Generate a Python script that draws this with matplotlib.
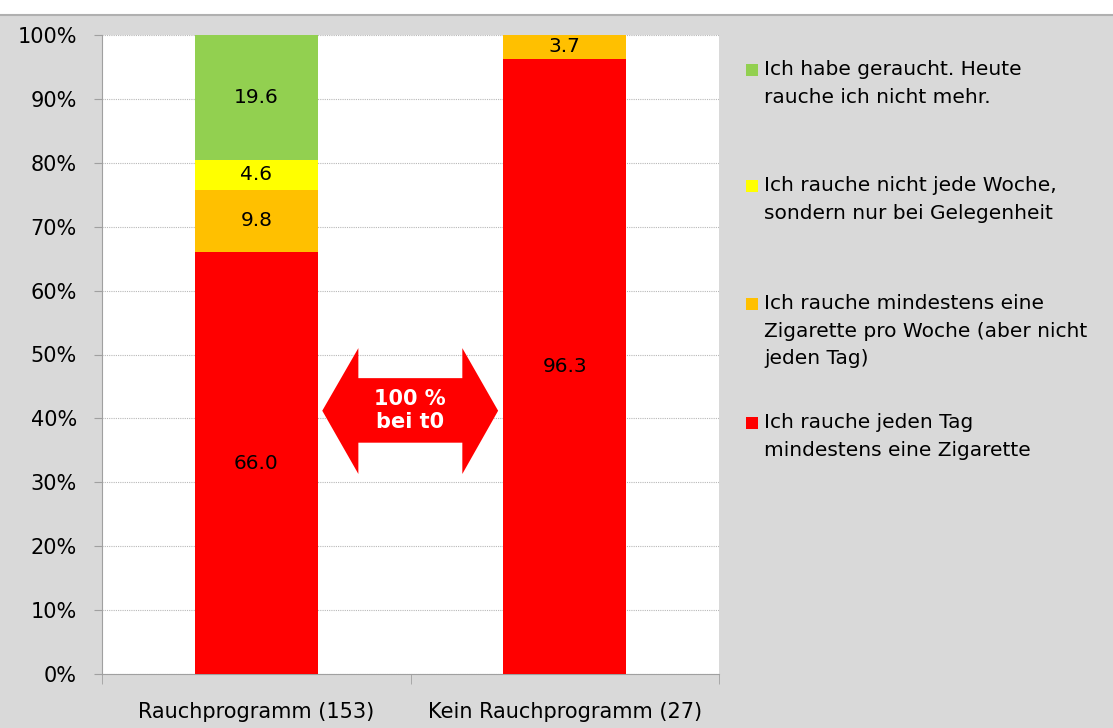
import matplotlib.pyplot as plt
from matplotlib.patches import Polygon, Rectangle
import numpy as np

groups = ["Rauchprogramm (153)", "Kein Rauchprogramm (27)"]
series_names = [
    "Ich rauche jeden Tag\nmindestens eine Zigarette",
    "Ich rauche mindestens eine\nZigarette pro Woche (aber nicht\njeden Tag)",
    "Ich rauche nicht jede Woche,\nsondern nur bei Gelegenheit",
    "Ich habe geraucht. Heute\nrauche ich nicht mehr.",
]
daily = [66.0, 96.3]
weekly = [9.8, 3.7]
occasional = [4.6, 0.0]
quit_smoking = [19.6, 0.0]
colors = ["#ff0000", "#ffc000", "#ffff00", "#92d050"]
ytick_labels = ["0%", "10%", "20%", "30%", "40%", "50%", "60%", "70%", "80%", "90%", "100%"]

bg = "#d9d9d9"
fig = plt.figure(figsize=(11.13, 7.28), dpi=100, facecolor=bg)
ax = fig.add_axes([102 / 1113, 54 / 728, 617 / 1113, 639 / 728])
ax.set_facecolor("white")

# white strip at the very top
fig.patches.append(Rectangle((0, 1 - 14 / 728), 1, 14 / 728, transform=fig.transFigure,
                             facecolor="white", edgecolor="none", zorder=0))
fig.add_artist(plt.Line2D([0, 1], [1 - 15 / 728, 1 - 15 / 728], transform=fig.transFigure,
                          color="#b0b0b0", lw=1.5))

x = np.arange(len(groups))
width = 0.40
bottom = np.zeros(len(groups))
for vals, col in zip([daily, weekly, occasional, quit_smoking], colors):
    vals = np.array(vals)
    ax.bar(x, vals, width, bottom=bottom, color=col, zorder=3)
    for xi, v, b in zip(x, vals, bottom):
        if v > 0:
            ax.text(xi, b + v / 2, f"{v:.1f}", ha="center", va="center", fontsize=14.5,
                    color="black", zorder=4)
    bottom += vals

ax.set_xlim(-0.5, 1.5)
ax.set_ylim(0, 100)
ax.set_yticks(np.arange(0, 101, 10))
ax.set_yticklabels(ytick_labels, fontsize=15)
ax.yaxis.grid(True, linestyle=(0, (1, 1)), color="#b8b8b8", lw=0.8, zorder=0)
ax.tick_params(axis="y", length=6, color="#a0a0a0", pad=12)

ax.set_xticks(x)
ax.set_xticklabels(groups, fontsize=15)
ax.set_xticks([-0.5, 0.5, 1.5], minor=True)
ax.tick_params(axis="x", which="major", length=0, pad=20)
ax.tick_params(axis="x", which="minor", length=7, color="#a0a0a0")

for s in ["top", "right"]:
    ax.spines[s].set_visible(False)
ax.spines["left"].set_color("#a0a0a0")
ax.spines["bottom"].set_color("#a0a0a0")

# double arrow "100 % bei t0"
xl, xs1, xs2, xr = 0.214, 0.331, 0.668, 0.784
yc, yht, yhb, ybt, ybb = 41.2, 51.0, 31.3, 46.3, 36.2
arrow = Polygon([(xl, yc), (xs1, yht), (xs1, ybt), (xs2, ybt), (xs2, yht), (xr, yc),
                 (xs2, yhb), (xs2, ybb), (xs1, ybb), (xs1, yhb)],
                closed=True, facecolor="#ff0000", edgecolor="none", zorder=5)
ax.add_patch(arrow)
ax.text((xl + xr) / 2, yc, "100 %\nbei t0", ha="center", va="center", color="white",
        fontsize=15, fontweight="bold", linespacing=1.2, zorder=6)

# legend drawn manually on the right
legend_y = [70, 186, 304, 423]
order = [3, 2, 1, 0]
for py, idx in zip(legend_y, order):
    fig.patches.append(Rectangle((746 / 1113, 1 - (py + 6) / 728), 12 / 1113, 12 / 728,
                                 transform=fig.transFigure, facecolor=colors[idx],
                                 edgecolor="none"))
    fig.text(764 / 1113, 1 - (py - 10) / 728, series_names[idx], ha="left", va="top",
             fontsize=14.5, linespacing=1.58)

fig.savefig("out.png", dpi=100, facecolor=bg)
